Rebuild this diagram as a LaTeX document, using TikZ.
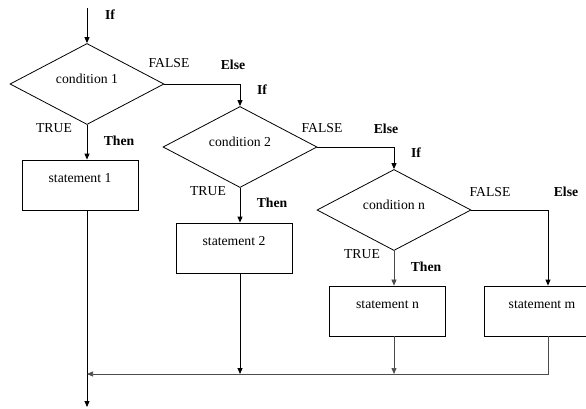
\documentclass[tikz,border=0pt]{standalone}
\usepackage{fontspec}
\setmainfont{Liberation Serif}
\usetikzlibrary{shapes.geometric,arrows.meta}
\begin{document}
\begin{tikzpicture}[x=1pt,y=-1pt,
  font=\fontsize{13.7}{16}\selectfont,
  flow/.style={line width=0.9pt,draw=black},
  flowthin/.style={line width=0.7pt,draw=black!70},
  tip/.style={-{Triangle[length=6pt,width=5pt]}},
  decision/.style={diamond,draw,line width=0.8pt,inner sep=0pt,
    minimum width=154pt,minimum height=75pt,text height=9pt,text depth=10pt},
  stmt/.style={rectangle,draw,line width=0.8pt,inner sep=0pt,
    minimum width=116pt,minimum height=50pt,text height=9pt,text depth=15pt},
  kw/.style={font=\fontsize{13.7}{16}\selectfont\bfseries},
  tf/.style={}]
  \useasboundingbox (0,0) rectangle (586,408);
  \clip (0,0) rectangle (586,408);

  % decisions
  \node[decision] (d1) at (87,84)  {condition 1};
  \node[decision] (d2) at (240,147) {condition 2};
  \node[decision] (d3) at (394,210) {condition n};

  % statements
  \node[stmt] (s1) at (80,185)    {statement 1};
  \node[stmt] (s2) at (234,248)   {statement 2};
  \node[stmt] (sn) at (387.5,311) {statement n};
  \node[stmt] (sm) at (542,311)   {statement m};

  % free ends of the main flow
  \coordinate (start) at (87,8);
  \coordinate (finish) at (87,407);
  \coordinate (join) at (87,374);

  % labels
  \node[kw] (if1) at (110,15) {If};
  \node[tf] (f1) at (169,63) {FALSE};
  \node[kw] (e1) at (233,65) {Else};
  \node[kw] (if2) at (262,90) {If};
  \node[tf] (t1) at (54,128) {TRUE};
  \node[kw] (th1) at (119,141) {Then};

  \node[tf] (f2) at (322,128) {FALSE};
  \node[kw] (e2) at (386,129) {Else};
  \node[kw] (if3) at (416,153) {If};
  \node[tf] (t2) at (208,191) {TRUE};
  \node[kw] (th2) at (272,203) {Then};

  \node[tf] (f3) at (490,192) {FALSE};
  \node[kw] (e3) at (566,192) {Else};
  \node[tf] (t3) at (362,254) {TRUE};
  \node[kw] (th3) at (426,267) {Then};

  % connectors
  \draw[flow,tip] (start) -- (d1.north);
  \draw[flow,tip] (d1.east) -| (d2.north);
  \draw[flow,tip] (d1.south) -- (d1.south |- s1.north);
  \draw[flow,tip] (d2.east) -| (d3.north);
  \draw[flow,tip] (d2.south) -- (d2.south |- s2.north);
  \draw[flowthin,tip] (d3.south) -- (d3.south |- sn.north);
  \draw[flow,tip] (d3.east) -| ([xshift=6pt]sm.north);

  \draw[flow,tip] (d1.south |- s1.south) -- (finish);
  \draw[flow,tip] (d2.south |- s2.south) -- (d2.south |- join);
  \draw[flowthin,tip] (d3.south |- sn.south) -- (d3.south |- join);
  \draw[flowthin,tip] ([xshift=6pt]sm.south) |- (join);
\end{tikzpicture}
\end{document}
